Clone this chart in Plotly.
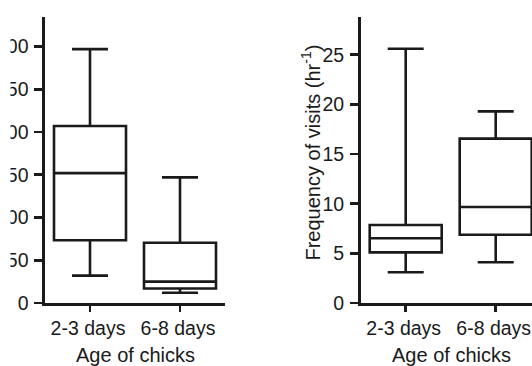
import plotly.graph_objects as go

# ---- data ----
categories = ["2-3 days", "6-8 days"]

# left panel (axis title cropped off in reference)
left_low = [32, 12]
left_q1 = [73.5, 17]
left_median = [152, 25]
left_q3 = [207, 70.5]
left_high = [297, 147]
left_ticks = [0, 50, 100, 150, 200, 250, 300]

# right panel: frequency of visits (hr^-1)
freq_low = [3.1, 4.1]
freq_q1 = [5.1, 6.88]
freq_median = [6.52, 9.66]
freq_q3 = [7.85, 16.55]
freq_high = [25.6, 19.3]
freq_ticks = [0, 5, 10, 15, 20, 25]

INK = "#1a1a1a"
FONT = "Arial, Liberation Sans, Helvetica, sans-serif"
FS_TICK = 19.5
FS_TITLE = 20
LW = 2.6

OFF = 0   # page body margin removed via post_script
W, H = 532 - OFF, 366 - OFF
PLOT_L, PLOT_B, PLOT_T, PLOT_R = 45, 303.3, 16.7, 532   # in reference (screen) pixels
ML, MB, MT, MR = PLOT_L - OFF, H - (PLOT_B - OFF), PLOT_T - OFF, 0
PW = W - ML - MR
PH = H - MT - MB


def px_x(p):
    return (p - OFF - ML) / PW


def px_y(p):
    return (H - MB - (p - OFF)) / PH


fig = go.Figure()

fig.add_trace(go.Box(
    x=categories, q1=left_q1, median=left_median, q3=left_q3,
    lowerfence=left_low, upperfence=left_high,
    boxpoints=False, fillcolor="rgba(0,0,0,0)",
    line=dict(color=INK, width=LW), whiskerwidth=0.5, width=0.8,
    xaxis="x", yaxis="y", hoverinfo="skip", showlegend=False,
))
fig.add_trace(go.Box(
    x=categories, q1=freq_q1, median=freq_median, q3=freq_q3,
    lowerfence=freq_low, upperfence=freq_high,
    boxpoints=False, fillcolor="rgba(0,0,0,0)",
    line=dict(color=INK, width=LW), whiskerwidth=0.5, width=0.8,
    xaxis="x2", yaxis="y2", hoverinfo="skip", showlegend=False,
))

axis_common = dict(
    showline=True, linecolor=INK, linewidth=LW,
    ticks="outside", tickcolor=INK, tickwidth=LW,
    showgrid=False, zeroline=False, automargin=False,
    tickfont=dict(family=FONT, size=FS_TICK, color=INK),
    fixedrange=True,
)

right_start = 360.7   # reference px of the right y axis
fig.update_layout(
    width=W, height=H,
    margin=dict(l=ML, r=MR, t=MT, b=MB, pad=0),
    paper_bgcolor="white", plot_bgcolor="white",
    font=dict(family=FONT, size=FS_TICK, color=INK),
    showlegend=False,
    xaxis=dict(domain=[0, px_x(225)], range=[-0.5, 1.5], type="category",
               anchor="y", ticklen=6, ticklabelshift=-2, **axis_common),
    yaxis=dict(domain=[0, 1], range=[0, 334.6], tickvals=left_ticks,
               anchor="x", ticklen=8, ticklabelstandoff=2, **axis_common),
    xaxis2=dict(domain=[px_x(right_start), 1],
                range=[-0.5, -0.5 + (PLOT_R - right_start) / 90],
                type="category", anchor="y2", ticklen=6, ticklabelshift=-2,
                **axis_common),
    yaxis2=dict(domain=[0, 1], range=[0, 28.8], tickvals=freq_ticks,
                anchor="x2", ticklen=8, ticklabelstandoff=2, **axis_common),
)

annos = [
    dict(text="Age of chicks", x=px_x(135), y=px_y(355)),
    dict(text="Age of chicks", x=px_x(451), y=px_y(355)),
    dict(text="Frequency of visits (hr<sup>-1</sup>)", x=px_x(311), y=px_y(152.5),
         textangle=-90),
]
for a in annos:
    fig.add_annotation(xref="paper", yref="paper", showarrow=False,
                       xanchor="center", yanchor="middle",
                       font=dict(family=FONT, size=FS_TITLE, color=INK), **a)

# the reference image is cropped on its left edge
fig.add_shape(type="rect", xref="paper", yref="paper",
              x0=-0.3, x1=px_x(10.5), y0=-0.3, y1=1.1,
              fillcolor="white", line=dict(width=0), layer="above")

fig.write_html("out.html",
               config={"displayModeBar": False, "staticPlot": True},
               post_script="document.body.style.margin='0';"
                           "document.body.style.overflow='hidden';")
